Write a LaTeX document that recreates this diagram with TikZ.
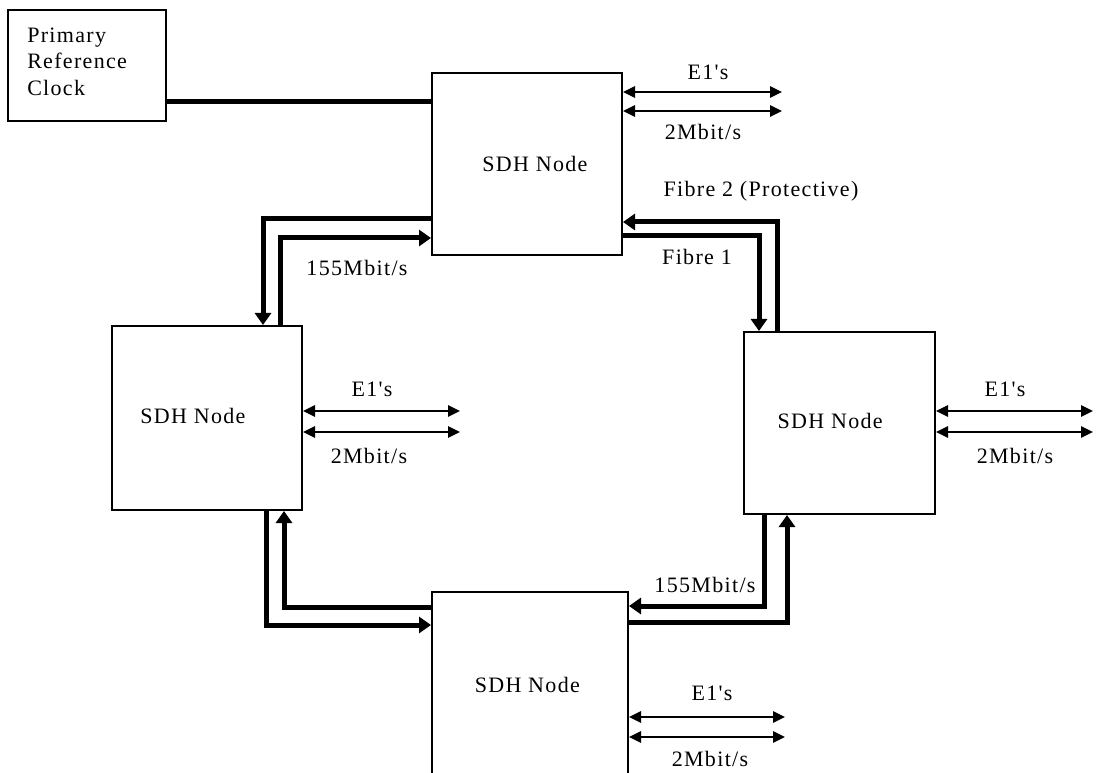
\documentclass[tikz,border=0pt]{standalone}
\usepackage{fontspec}
\setmainfont{Liberation Serif}
\newfontfamily\lblfont[LetterSpace=6]{Liberation Serif}
\usetikzlibrary{arrows.meta,calc}
\tikzset{
  box/.style={draw=black,line width=1.5pt,fill=white,inner sep=0pt},
  txt/.style={font=\lblfont\fontsize{16.5}{19.9}\selectfont,inner sep=0pt},
  fat/.style={line width=3.75pt},
  fatarrow/.style={line width=3.75pt,-{Triangle[length=9pt,width=12pt]}},
  thinarrow/.style={line width=1.5pt,{Triangle[length=9pt,width=8.5pt]}-{Triangle[length=9pt,width=8.5pt]}},
}
\begin{document}
\begin{tikzpicture}[x=0.75pt,y=-0.75pt]
\useasboundingbox (0,0) rectangle (1096,773);
% boxes
\node[box,minimum width=118.5pt,minimum height=83.25pt] (clock) at (87,65.5) {};
\node[txt,anchor=west,align=left] (clocktxt) at (27,61.5) {Primary\\Reference\\Clock};
\node[box,minimum width=142.5pt,minimum height=136.5pt,
      label={[txt,xshift=6pt]center:SDH Node}] (top) at (527,164) {};
\node[box,minimum width=142.5pt,minimum height=138pt,
      label={[txt,xshift=-10.5pt,yshift=1.5pt]center:SDH Node}] (left) at (207,418) {};
\node[box,minimum width=143.25pt,minimum height=136.5pt,
      label={[txt,xshift=-7pt,yshift=1.5pt]center:SDH Node}] (right) at (839.5,423) {};
\node[box,minimum width=147pt,minimum height=156pt,
      label={[txt,xshift=-2pt,yshift=8.25pt]center:SDH Node}] (bottom) at (530,696) {};
% clock line
\draw[fat] (clock.east |- 0,102) -- (top.west |- 0,102);
% ring: top-left
\draw[fatarrow] (top.west |- 0,219) -| (left.north -| 263,0);
\draw[fatarrow] (left.north -| 280,0) |- (top.west |- 0,238);
% ring: top-right
\draw[fatarrow] (right.north -| 777,0) |- (top.east |- 0,222);
\draw[fatarrow] (top.east |- 0,236) -| (right.north -| 759,0);
% ring: bottom-left
\draw[fatarrow] (bottom.west |- 0,607) -| (left.south -| 284,0);
\draw[fatarrow] (left.south -| 266,0) |- (bottom.west |- 0,625);
% ring: bottom-right
\draw[fatarrow] (right.south -| 764,0) |- (bottom.east |- 0,606);
\draw[fatarrow] (bottom.east |- 0,622) -| (right.south -| 787,0);
% tributary ends
\coordinate (ta) at (782,92);
\coordinate (tb) at (782,111);
\coordinate (la) at (460,411);
\coordinate (lb) at (460,432);
\coordinate (ra) at (1093,411);
\coordinate (rb) at (1093,432);
\coordinate (ba) at (785,717);
\coordinate (bb) at (785,737);
\draw[thinarrow] (top.east |- ta) -- (ta);
\draw[thinarrow] (top.east |- tb) -- (tb);
\draw[thinarrow] (left.east |- la) -- (la);
\draw[thinarrow] (left.east |- lb) -- (lb);
\draw[thinarrow] (right.east |- ra) -- (ra);
\draw[thinarrow] (right.east |- rb) -- (rb);
\draw[thinarrow] (bottom.east |- ba) -- (ba);
\draw[thinarrow] (bottom.east |- bb) -- (bb);
% labels
\node[txt] (te1) at (708,72) {E1's};
\node[txt] (t2m) at (703,132) {2Mbit/s};
\node[txt] (le1) at (372,389) {E1's};
\node[txt] (l2m) at (369,456) {2Mbit/s};
\node[txt] (re1) at (1005,389) {E1's};
\node[txt] (r2m) at (1015,456) {2Mbit/s};
\node[txt] (be1) at (712,693) {E1's};
\node[txt] (b2m) at (710,759) {2Mbit/s};
\node[txt] (f2) at (761,191) {Fibre 2 (Protective)};
\node[txt] (f1) at (697,257) {Fibre 1};
\node[txt] (r155a) at (357,268) {155Mbit/s};
\node[txt] (r155b) at (705,585) {155Mbit/s};
\end{tikzpicture}
\end{document}
